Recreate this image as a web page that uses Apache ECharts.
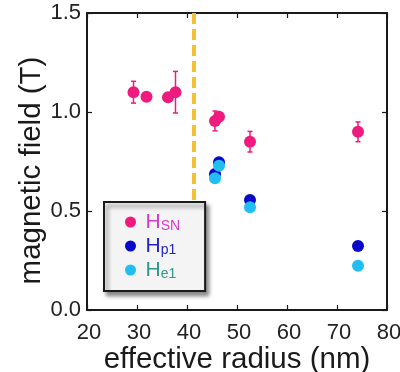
<!DOCTYPE html>
<html>
<head>
<meta charset="utf-8">
<script src="https://cdn.jsdelivr.net/npm/echarts@6/dist/echarts.min.js"></script>
<style>
  html, body { margin: 0; padding: 0; background: #fff; }
  #chart { width: 400px; height: 372px; }
</style>
</head>
<body>
<div id="chart"></div>
<script>
// Data
const hsnRadius = [29.3, 31.9, 36.2, 37.7, 45.6, 46.4, 52.6, 74.2];
const hsnField = [1.10, 1.077, 1.075, 1.10, 0.955, 0.976, 0.85, 0.90];
const hsnError = [0.055, 0.015, 0.015, 0.105, 0.05, 0.02, 0.052, 0.05];

const hp1Radius = [45.6, 46.4, 52.6, 74.2];
const hp1Field = [0.687, 0.746, 0.555, 0.323];

const he1Radius = [45.6, 46.4, 52.6, 74.2];
const he1Field = [0.665, 0.729, 0.519, 0.223];

// critical radius marker (dashed line)
const criticalRadius = 41.4;
const criticalSpan = [1.5, 0.55];

const xTicks = [20, 30, 40, 50, 60, 70, 80];
const yTicks = [0.0, 0.5, 1.0, 1.5];

const FONT = "'Liberation Sans', Arial, sans-serif";
const PINK = "#ee1a7d";
const BLUE = "#0808c8";
const SKY = "#22bdf2";

const chart = echarts.init(document.getElementById("chart"));

const pairs = (xs, ys) => xs.map((x, i) => [x, ys[i]]);

// Error bar renderer
const renderErrorBar = (params, api) => {
  const x = api.value(0);
  const hi = api.coord([x, api.value(1) + api.value(2)]);
  const lo = api.coord([x, api.value(1) - api.value(2)]);
  const cap = 2.5;
  const style = { stroke: PINK, lineWidth: 1.5 };
  return {
    type: "group",
    children: [
      { type: "line", shape: { x1: hi[0], y1: hi[1], x2: lo[0], y2: lo[1] }, style },
      { type: "line", shape: { x1: hi[0] - cap, y1: hi[1], x2: hi[0] + cap, y2: hi[1] }, style },
      { type: "line", shape: { x1: lo[0] - cap, y1: lo[1], x2: lo[0] + cap, y2: lo[1] }, style },
    ],
  };
};

const legendRich = (color) => ({
  color,
  fontFamily: FONT,
  rich: {
    h: { fontSize: 21, color, fontFamily: FONT, verticalAlign: "bottom", lineHeight: 22 },
    s: { fontSize: 14, color, fontFamily: FONT, verticalAlign: "bottom", lineHeight: 19 },
  },
});

const baseAxis = {
  axisLine: { show: true, onZero: false, lineStyle: { color: "#1a1a1a", width: 2 } },
  axisTick: { show: true, inside: true, length: 5, lineStyle: { color: "#1a1a1a", width: 1.2 } },
  splitLine: { show: false },
};

const option = {
  animation: false,
  grid: { left: 87, right: 13, top: 13, bottom: 62, containLabel: false, outerBoundsMode: "none" },
  xAxis: [
    {
      ...baseAxis,
      type: "value",
      min: 20,
      max: 80,
      interval: 10,
      name: "effective radius (nm)",
      nameLocation: "middle",
      nameGap: 35,
      nameMoveOverlap: false,
      nameTextStyle: { fontSize: 29.5, color: "#1a1a1a", fontFamily: FONT },
      axisLabel: { fontSize: 22, color: "#222", fontFamily: FONT, margin: 12,
        padding: [0, 0, 0, 4],
        formatter: (v) => (xTicks.includes(v) ? String(v) : "") },
    },
    {
      ...baseAxis,
      type: "value",
      position: "top",
      min: 20,
      max: 80,
      interval: 10,
      axisLabel: { show: false },
    },
  ],
  yAxis: [
    {
      ...baseAxis,
      type: "value",
      min: 0,
      max: 1.5,
      interval: 0.5,
      name: "magnetic field (T)",
      nameLocation: "middle",
      nameGap: 40,
      nameMoveOverlap: false,
      nameTextStyle: { fontSize: 29.5, color: "#1a1a1a", fontFamily: FONT,
        padding: [0, 18, 0, 0] },
      axisLabel: { fontSize: 22, color: "#222", fontFamily: FONT, margin: 6,
        padding: [6, 0, 0, 0],
        formatter: (v) => yTicks.find((t) => Math.abs(t - v) < 1e-9).toFixed(1) },
    },
    {
      ...baseAxis,
      type: "value",
      position: "right",
      min: 0,
      max: 1.5,
      interval: 0.5,
      axisLabel: { show: false },
    },
  ],
  legend: {
    orient: "vertical",
    left: 104,
    top: 202,
    padding: [10, 25, 10, 21],
    itemGap: 3,
    itemWidth: 20,
    itemHeight: 11,
    icon: "circle",
    backgroundColor: "#f4f4f4",
    borderColor: "#1a1a1a",
    borderWidth: 2,
    borderRadius: 0,
    shadowBlur: 4,
    shadowOffsetX: 3,
    shadowOffsetY: 4,
    shadowColor: "rgba(0,0,0,0.45)",
    formatter: (name) => "{h|H}{s|" + name.slice(1) + "}",
    data: [
      { name: "HSN", textStyle: legendRich("#d63ac9") },
      { name: "Hp1", textStyle: legendRich("#2424c4") },
      { name: "He1", textStyle: legendRich("#2f978d") },
    ],
  },
  series: [
    {
      name: "critical",
      type: "line",
      data: criticalSpan.map((y) => [criticalRadius, y]),
      symbol: "none",
      lineStyle: { color: "#f5bf36", width: 4, type: [11, 5] },
      z: 1,
    },
    {
      name: "HSN error",
      type: "custom",
      renderItem: renderErrorBar,
      data: hsnRadius.map((x, i) => [x, hsnField[i], hsnError[i]]),
      z: 2,
    },
    {
      name: "HSN",
      type: "scatter",
      data: pairs(hsnRadius, hsnField),
      symbolSize: 12,
      itemStyle: { color: PINK, opacity: 1 },
      z: 3,
    },
    {
      name: "Hp1",
      type: "scatter",
      data: pairs(hp1Radius, hp1Field),
      symbolSize: 12,
      itemStyle: { color: BLUE, opacity: 1 },
      z: 3,
    },
    {
      name: "He1",
      type: "scatter",
      data: pairs(he1Radius, he1Field),
      symbolSize: 12,
      itemStyle: { color: SKY, opacity: 1 },
      z: 4,
    },
  ],
};

chart.setOption(option);
</script>
</body>
</html>
